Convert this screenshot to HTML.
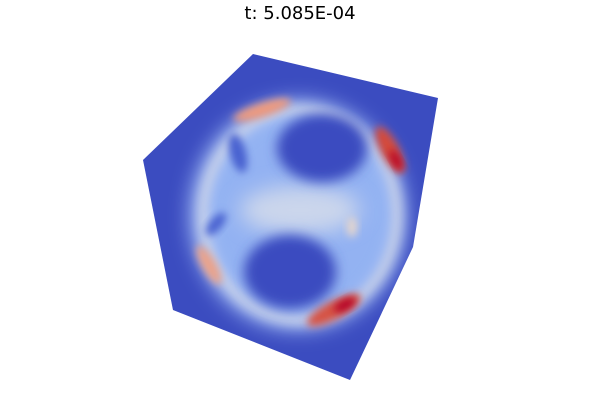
<!DOCTYPE html>
<html><head><meta charset="utf-8"><style>
body{margin:0;background:#fff;width:600px;height:400px;overflow:hidden}
svg{display:block}
</style></head><body>
<svg width="600" height="400" viewBox="0 0 600 400">
<defs>
<clipPath id="cube"><polygon points="253,54 438,98 413,247 350,380 173,310 143,160"/></clipPath>
<filter id="b6" x="-50%" y="-50%" width="200%" height="200%"><feGaussianBlur stdDeviation="6"/></filter>
<filter id="b10" x="-50%" y="-50%" width="200%" height="200%"><feGaussianBlur stdDeviation="10"/></filter>
<filter id="b4" x="-50%" y="-50%" width="200%" height="200%"><feGaussianBlur stdDeviation="4"/></filter>
</defs>
<text x="300" y="19" text-anchor="middle" font-family="DejaVu Sans, sans-serif" font-size="18" fill="#000">t: 5.085E-04</text>
<g clip-path="url(#cube)">
<rect x="130" y="40" width="320" height="350" fill="#3b4cc0"/>
<ellipse cx="298" cy="215" rx="108" ry="115" fill="#9fbaf5" filter="url(#b10)"/>
<ellipse cx="300" cy="215" rx="96" ry="104" fill="none" stroke="#d3d9e8" stroke-width="10" filter="url(#b6)"/>
<ellipse cx="300" cy="215" rx="88" ry="96" fill="#93b2f2" filter="url(#b6)"/>
<ellipse cx="300" cy="210" rx="60" ry="24" fill="#cbd6ec" filter="url(#b10)"/>
<ellipse cx="322" cy="148" rx="45" ry="34" fill="#3b4cc0" filter="url(#b6)"/>
<ellipse cx="290" cy="272" rx="46" ry="37" fill="#3b4cc0" filter="url(#b6)"/>
<ellipse cx="238" cy="153" rx="8" ry="20" fill="#4a62d0" filter="url(#b4)" transform="rotate(-15 238 153)"/>
<ellipse cx="216" cy="224" rx="6" ry="14" fill="#4a62d0" filter="url(#b4)" transform="rotate(40 216 224)"/>
<ellipse cx="262" cy="110" rx="30" ry="7" fill="#ee9a7e" filter="url(#b4)" transform="rotate(-18 262 110)"/>
<ellipse cx="390" cy="150" rx="9" ry="26" fill="#d44a3a" filter="url(#b4)" transform="rotate(-28 390 150)"/>
<ellipse cx="396" cy="160" rx="4" ry="11" fill="#b40426" filter="url(#b4)" transform="rotate(-28 396 160)"/>
<ellipse cx="334" cy="310" rx="30" ry="9" fill="#d65244" filter="url(#b4)" transform="rotate(-28 334 310)"/>
<ellipse cx="345" cy="305" rx="12" ry="5" fill="#b40426" filter="url(#b4)" transform="rotate(-28 345 305)"/>
<ellipse cx="209" cy="265" rx="7" ry="22" fill="#eba38a" filter="url(#b4)" transform="rotate(-30 209 265)"/>
<ellipse cx="352" cy="227" rx="5" ry="10" fill="#e6d6cc" filter="url(#b4)"/>
</g>
</svg>
</body></html>
